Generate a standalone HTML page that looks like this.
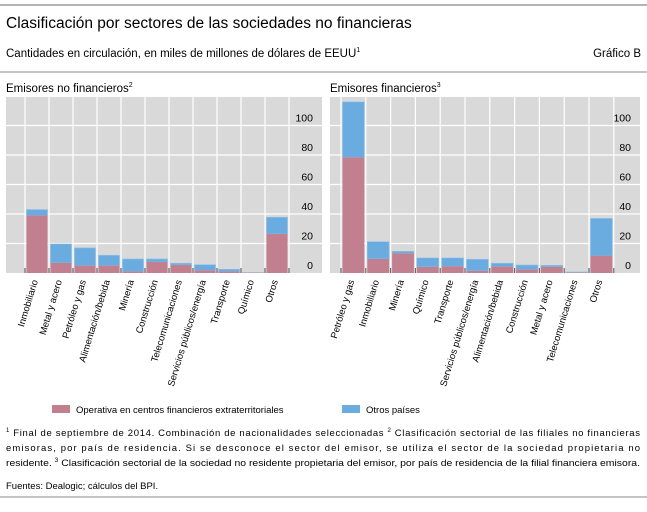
<!DOCTYPE html>
<html><head><meta charset="utf-8"><style>
body{margin:0;background:#fff;}
svg text{font-family:"Liberation Sans",sans-serif;fill:#000;}
</style></head><body>
<svg id="c" width="647" height="507" xmlns="http://www.w3.org/2000/svg">
<line x1="0" y1="5" x2="647" y2="5" stroke="#999" stroke-width="1.5"/>
<text x="6" y="28" font-size="15.5">Clasificación por sectores de las sociedades no financieras</text>
<text x="6" y="57" font-size="11.5">Cantidades en circulación, en miles de millones de dólares de EEUU<tspan dy="-5" font-size="7">1</tspan></text>
<text x="641" y="57" font-size="11.5" text-anchor="end">Gráfico B</text>
<line x1="0" y1="72" x2="647" y2="72" stroke="#888" stroke-width="1"/>
<text x="6" y="92" font-size="11.5">Emisores no financieros<tspan dy="-5" font-size="7">2</tspan></text>
<text x="330" y="92" font-size="11.5">Emisores financieros<tspan dy="-5" font-size="7">3</tspan></text>
<g id="left"></g><g id="right"></g>
<rect x="52" y="405" width="18" height="8" fill="#c17f8f"/>
<text x="76" y="413" font-size="9.5">Operativa en centros financieros extraterritoriales</text>
<rect x="342" y="405" width="18" height="8" fill="#6aace0"/>
<text x="366" y="413" font-size="9.5">Otros países</text>
<g font-size="9.5">
<text x="6" y="436" textLength="634" lengthAdjust="spacing"><tspan font-size="6" dy="-4">1</tspan><tspan dy="4"> Final de septiembre de 2014. Combinación de nacionalidades seleccionadas  </tspan><tspan font-size="6" dy="-4">2</tspan><tspan dy="4"> Clasificación sectorial de las filiales no financieras</tspan></text>
<text x="6" y="451" textLength="634" lengthAdjust="spacing">emisoras, por país de residencia. Si se desconoce el sector del emisor, se utiliza el sector de la sociedad propietaria no</text>
<text x="6" y="466" textLength="634" lengthAdjust="spacingAndGlyphs">residente.  <tspan font-size="6" dy="-4">3</tspan><tspan dy="4"> Clasificación sectorial de la sociedad no residente propietaria del emisor, por país de residencia de la filial financiera emisora.</tspan></text>
<text x="6" y="489">Fuentes: Dealogic; cálculos del BPI.</text>
</g>
<line x1="0" y1="497" x2="647" y2="497" stroke="#888" stroke-width="1"/>
</svg>
<script>
const leftCats=["Inmobiliario","Metal y acero","Petróleo y gas","Alimentación/bebida","Minería","Construcción","Telecomunicaciones","Servicios públicos/energía","Transporte","Químico","Otros"];
const leftOffshore=[39,6.8,5,5,1,7.4,5.4,1.8,1,0.2,26.4];
const leftOther=[4,12.9,12,7,8.5,2.1,1.2,3.8,1.5,0.1,11.4];
const rightCats=["Petróleo y gas","Inmobiliario","Minería","Químico","Transporte","Servicios públicos/energía","Alimentación/bebida","Construcción","Metal y acero","Telecomunicaciones","Otros"];
const rightOffshore=[78.4,9.5,13.3,4.1,4.5,1.4,4.3,2.3,4.1,0.3,11.7];
const rightOther=[37.6,11.7,1.4,6.1,5.7,7.9,2.3,3.1,1.1,0.4,25.3];
const yTicks=[0,20,40,60,80,100];
const NS="http://www.w3.org/2000/svg";
function mk(p,t,a){const e=document.createElementNS(NS,t);for(const k in a)e.setAttribute(k,a[k]);p.appendChild(e);return e;}
function panel(gid,x0,x1,bandStart,band,cats,off,oth,prefix){
  const g=document.getElementById(gid);
  const y=v=>273-1.475*v;
  const bg=mk(g,'rect',{x:x0,y:97,width:x1-x0,height:176,fill:'#d9d9d9'});
  
  
  yTicks.forEach(t=>{
    if(t>0){const l=mk(g,'line',{x1:x0,x2:x1,y1:y(t),y2:y(t),stroke:'#fff','stroke-width':1.2});
    
    }
    const tx=mk(g,'text',{x:x1-9,y:y(t)-4,'font-size':10.5,'text-anchor':'end'});tx.textContent=t;
    
    
  });
  for(let i=0;i<=cats.length;i++){
    const xx=bandStart+band*i;
    const l=mk(g,'line',{x1:xx,x2:xx,y1:97,y2:273,stroke:'#fff','stroke-width':1.2});
    
    
    const tk=mk(g,'line',{x1:xx,x2:xx,y1:268,y2:273,stroke:'#555','stroke-width':1});
    
    
  }
  cats.forEach((c,i)=>{
    const bx=bandStart+band*i+1.5,bw=band-3;
    const tot=off[i]+oth[i];
    const b2=mk(g,'rect',{x:bx,y:y(tot),width:bw,height:y(off[i])-y(tot),fill:'#6aace0',stroke:'#8fc0e8','stroke-width':0.6});
    
    
    const b1=mk(g,'rect',{x:bx,y:y(off[i]),width:bw,height:273-y(off[i]),fill:'#c17f8f'});
    
    
    const cx=bandStart+band*(i+0.5)+1;
    const tx=mk(g,'text',{x:cx,y:281,'font-size':9.5,'text-anchor':'end',transform:`rotate(-73 ${cx} 281)`});
    tx.textContent=c;
    
    
  });
}
panel('left',6,322,25,24,leftCats,leftOffshore,leftOther,'left');
panel('right',330,640,341,24.8,rightCats,rightOffshore,rightOther,'right');
</script>
</body></html>
